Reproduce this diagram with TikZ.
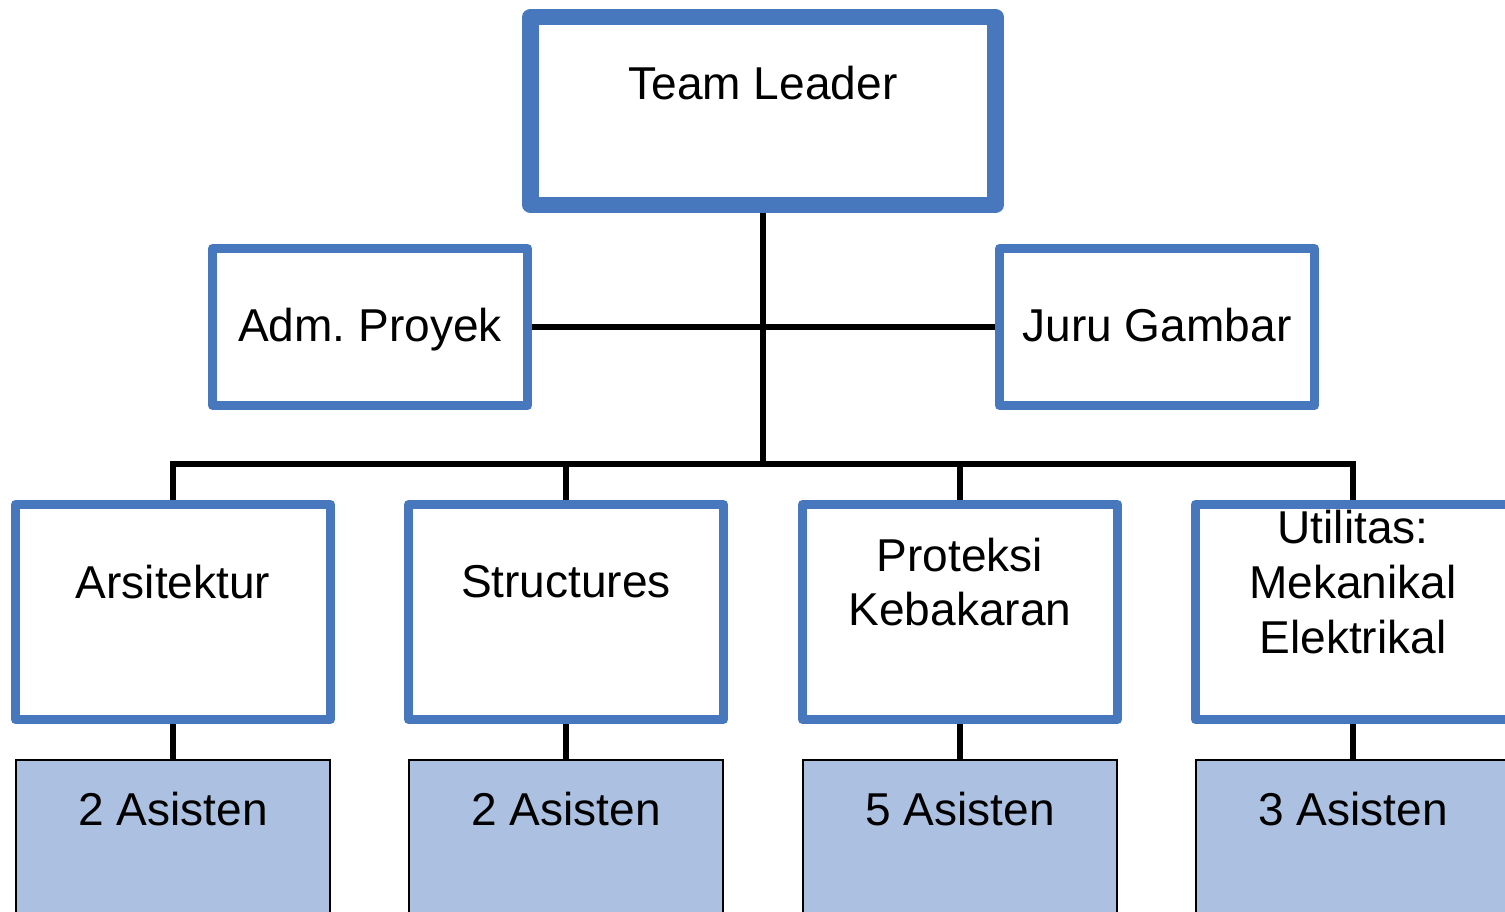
\documentclass[tikz,border=0pt]{standalone}
\usepackage{fontspec}
\setmainfont{Liberation Sans}
\definecolor{boxblue}{RGB}{71,120,190}
\definecolor{asblue}{RGB}{172,193,226}
\begin{document}
\begin{tikzpicture}[x=0.01cm, y=-0.01cm,
        leadbox/.style={draw=boxblue, line width=4.8pt, fill=white, line join=round,
            minimum width=4.64cm, minimum height=1.88cm, inner sep=0pt},
        staffbox/.style={draw=boxblue, line width=2.55pt, fill=white, line join=round,
            minimum width=3.15cm, minimum height=1.57cm, inner sep=0pt},
        unitbox/.style={staffbox, minimum height=2.15cm},
        asistenbox/.style={draw=black, line width=0.6pt, fill=asblue,
            minimum width=3.14cm, minimum height=2.4cm, inner sep=0pt},
        link/.style={line width=1.45pt},
        lbl/.style={font=\fontsize{13.1}{15.6}\selectfont, align=center, inner sep=0pt}]
    \clip (0,0) rectangle (1505,912);
    \fill[white] (0,0) rectangle (1505,912);
    % top
    \node[leadbox] (lead) at (763,111) {};
    \node[lbl, anchor=base] (leadT) at (763,100) {Team Leader};
    \node[staffbox] (adm) at (370,327) {};
    \node[lbl, anchor=base] (admT) at (370,341) {Adm.\ Proyek};
    \node[staffbox] (juru) at (1157,327) {};
    \node[lbl, anchor=base] (juruT) at (1157,341) {Juru Gambar};
    \coordinate (bus) at (763,464);
    \draw[link] (lead.south) -- (bus);
    \draw[link] (adm.east) -- (juru.west);
    % units and assistants
    \foreach \i/\x/\txt/\n in {1/173/Arsitektur/2, 2/566/Structures/2,
            3/960/Proteksi\\Kebakaran/5, 4/1353/Utilitas:\\Mekanikal\\Elektrikal/3}{
        \node[unitbox] (unit\i) at (\x,612) {};
        \node[lbl] (unitT\i) at (\x,582) {\txt};
        \node[asistenbox] (as\i) at (\x,880) {};
        \node[lbl, anchor=base] (asT\i) at (\x,825) {\n\ Asisten};
        \draw[link] (unit\i.north) |- (bus);
        \draw[link] (unit\i.south) -- (as\i.north);
    }
\end{tikzpicture}
\end{document}
